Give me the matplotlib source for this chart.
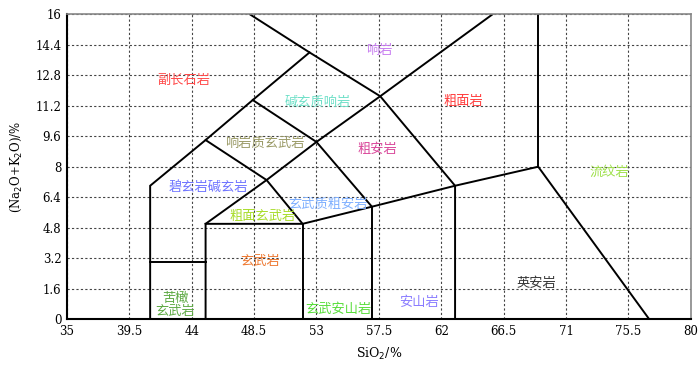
import numpy as np
import matplotlib.pyplot as plt

# ---- TAS 分类图边界 (SiO2, Na2O+K2O) ----
x_ticks = [35, 39.5, 44, 48.5, 53, 57.5, 62, 66.5, 71, 75.5, 80]
y_ticks = [0, 1.6, 3.2, 4.8, 6.4, 8, 9.6, 11.2, 12.8, 14.4, 16]

# 每条边界线：x 列表, y 列表
line_foidite_x = [41, 41, 45, 48.4, 52.5]
line_foidite_y = [0, 7, 9.4, 11.5, 14]
line_phonolite_x = [48.2, 52.5, 57.6, 63, 63]
line_phonolite_y = [16, 14, 11.7, 7, 0]
line_trachyte_x = [45, 49.4, 53, 57.6, 65.7]
line_trachyte_y = [5, 7.3, 9.3, 11.7, 16]
line_tephrite_x = [45, 49.4, 52]
line_tephrite_y = [9.4, 7.3, 5]
line_phonotephrite_x = [48.4, 53, 57]
line_phonotephrite_y = [11.5, 9.3, 5.9]
line_alkaline_x = [45, 45, 52, 57, 63, 69, 77]
line_alkaline_y = [0, 5, 5, 5.9, 7, 8, 0]
line_basalt_x = [52, 52]
line_basalt_y = [0, 5]
line_andesite_x = [57, 57]
line_andesite_y = [0, 5.9]
line_rhyolite_x = [69, 69]
line_rhyolite_y = [8, 16]
line_picro_x = [41, 45]
line_picro_y = [3, 3]

boundaries = [
    (line_foidite_x, line_foidite_y),
    (line_phonolite_x, line_phonolite_y),
    (line_trachyte_x, line_trachyte_y),
    (line_tephrite_x, line_tephrite_y),
    (line_phonotephrite_x, line_phonotephrite_y),
    (line_alkaline_x, line_alkaline_y),
    (line_basalt_x, line_basalt_y),
    (line_andesite_x, line_andesite_y),
    (line_rhyolite_x, line_rhyolite_y),
    (line_picro_x, line_picro_y),
]

# 岩石名称及其位置
rock_names = ['副长石岩', '响岩', '碱玄质响岩', '粗面岩', '响岩质玄武岩', '粗安岩',
              '碧玄岩碱玄岩', '玄武质粗安岩', '粗面玄武岩', '流纹岩', '玄武岩',
              '英安岩', '苦橄\n玄武岩', '玄武安山岩', '安山岩']
rock_x = [43.4, 57.5, 53.1, 63.6, 49.3, 57.4, 45.2, 53.8, 49.1, 74.1, 48.9, 68.9, 42.8, 54.6, 60.4]
rock_y = [12.55, 14.1, 11.4, 11.4, 9.25, 8.9, 6.9, 6.0, 5.4, 7.7, 3.0, 1.85, 0.75, 0.5, 0.85]
rock_colors = ['#ff4a4a', '#c77cf0', '#6fe0c8', '#ff3b3b', '#9a9a66', '#d9479a',
               '#6f74ff', '#7fb0ff', '#a8dc2a', '#9ee04a', '#ee7a33',
               '#333333', '#5faa45', '#58dd3a', '#8a7cff']

fig = plt.figure(figsize=(7, 3.68), dpi=100)
ax = fig.add_axes([0.0957, 0.133, 0.891, 0.828])

for bx, by in boundaries:
    ax.plot(bx, by, color='black', lw=1.4, solid_joinstyle='miter')

for name, tx, ty, c in zip(rock_names, rock_x, rock_y, rock_colors):
    ax.text(tx, ty, name, color=c, ha='center', va='center', fontsize=9.5,
            family=['Noto Sans CJK SC', 'DejaVu Sans'], linespacing=1.05)

ax.set_xlim(35, 80)
ax.set_ylim(0, 16)
ax.set_xticks(x_ticks)
ax.set_yticks(y_ticks)
ax.set_xticklabels([f'{v:g}' for v in x_ticks], family='DejaVu Serif', fontsize=8.5)
ax.set_yticklabels([f'{v:g}' for v in y_ticks], family='DejaVu Serif', fontsize=8.5)
ax.tick_params(length=0, pad=4)
ax.grid(True, ls=(0, (2, 2)), color='#444444', lw=0.8)

for side in ['left', 'bottom']:
    ax.spines[side].set_linewidth(1.5)
for side in ['top', 'right']:
    ax.spines[side].set_color('#888888')
    ax.spines[side].set_linewidth(1.2)

ax.set_xlabel('SiO$_2$/%', family='DejaVu Serif', fontsize=9, labelpad=6)
ax.set_ylabel('(Na$_2$O+K$_2$O)/%', family='DejaVu Serif', fontsize=8.5, labelpad=8)

fig.savefig('out.png', dpi=100)
